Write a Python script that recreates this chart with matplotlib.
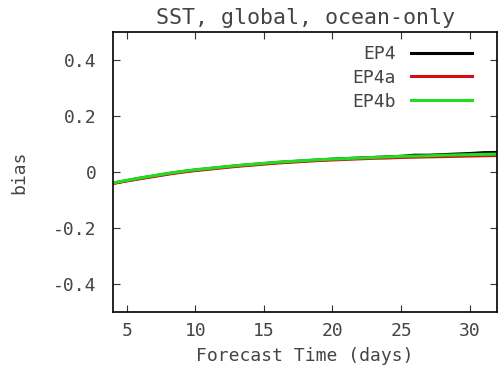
import matplotlib
matplotlib.use("Agg")
import matplotlib.pyplot as plt

days = list(range(4, 33))
ep4 = [-0.040, -0.031, -0.022, -0.014, -0.006, 0.001, 0.007, 0.012, 0.017, 0.022,
       0.026, 0.030, 0.034, 0.037, 0.040, 0.043, 0.046, 0.048, 0.050, 0.052,
       0.054, 0.056, 0.060, 0.060, 0.062, 0.064, 0.066, 0.069, 0.070]
ep4a = [-0.041, -0.032, -0.024, -0.016, -0.008, -0.001, 0.005, 0.010, 0.015, 0.020,
        0.024, 0.028, 0.032, 0.035, 0.038, 0.041, 0.043, 0.045, 0.047, 0.049,
        0.050, 0.052, 0.053, 0.054, 0.055, 0.056, 0.057, 0.058, 0.059]
ep4b = [-0.039, -0.030, -0.021, -0.013, -0.005, 0.002, 0.008, 0.013, 0.018, 0.023,
        0.027, 0.031, 0.035, 0.038, 0.041, 0.044, 0.046, 0.048, 0.050, 0.052,
        0.054, 0.056, 0.057, 0.058, 0.060, 0.061, 0.062, 0.063, 0.064]

plt.rcParams['font.family'] = 'DejaVu Sans Mono'
plt.rcParams['font.size'] = 13

fig = plt.figure(figsize=(4.99, 3.77), dpi=100)
ax = fig.add_axes([113 / 499, 1 - 312 / 377, (497 - 113) / 499, (312 - 32) / 377])

ax.plot(days, ep4, color='black', lw=2.2, label='EP4')
ax.plot(days, ep4a, color='#d01010', lw=2.2, label='EP4a')
ax.plot(days, ep4b, color='#22dd22', lw=2.2, label='EP4b')

ax.set_xlim(4, 32)
ax.set_ylim(-0.5, 0.5)
ax.set_xticks([5, 10, 15, 20, 25, 30])
ax.set_yticks([-0.4, -0.2, 0, 0.2, 0.4])
ax.set_yticklabels(['-0.4', '-0.2', '0', '0.2', '0.4'])
ax.tick_params(direction='in', length=5, top=True, right=True, colors='#333333', labelcolor='#444444')
ax.tick_params(axis='y', pad=12)
ax.tick_params(axis='x', pad=7)
for s in ax.spines.values():
    s.set_linewidth(1.2)

ax.set_title('SST, global, ocean-only', color='#444444', pad=6)
ax.set_xlabel('Forecast Time (days)', color='#444444', labelpad=5)
ax.set_ylabel('bias', color='#444444', labelpad=18)

leg = ax.legend(loc='upper right', frameon=False, markerfirst=False, handlelength=3.4,
                labelspacing=0.32, borderpad=0, borderaxespad=0, handletextpad=0.8,
                bbox_to_anchor=((472 - 113) / 384, 1 - (45 - 32) / 280))
for t in leg.get_texts():
    t.set_color('#444444')

fig.savefig('out.png', dpi=100)
